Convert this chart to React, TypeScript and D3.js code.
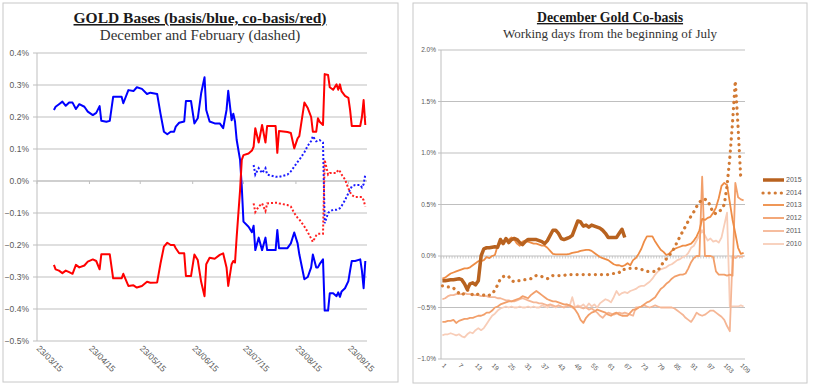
import React from 'react';
import * as d3 from 'd3';

// ---------------- Left chart data ----------------
const leftDates = [
  '2015-04-02','2015-04-03','2015-04-05','2015-04-07','2015-04-09','2015-04-11','2015-04-13','2015-04-15','2015-04-17','2015-04-20',
  '2015-04-22','2015-04-25','2015-04-27','2015-04-29','2015-04-30','2015-05-03','2015-05-05','2015-05-07','2015-05-12','2015-05-13',
  '2015-05-16','2015-05-19','2015-05-21','2015-05-24','2015-05-27','2015-05-29','2015-06-02','2015-06-04','2015-06-06','2015-06-08',
  '2015-06-10','2015-06-12','2015-06-13','2015-06-15','2015-06-18','2015-06-19','2015-06-22','2015-06-24','2015-06-26','2015-06-28',
  '2015-06-30','2015-07-01','2015-07-03','2015-07-06','2015-07-09','2015-07-11','2015-07-13','2015-07-14','2015-07-16','2015-07-17',
  '2015-07-18','2015-07-19','2015-07-21','2015-07-22','2015-07-23','2015-07-26','2015-07-28','2015-07-29','2015-07-30','2015-08-01',
  '2015-08-03','2015-08-05','2015-08-06','2015-08-11','2015-08-12','2015-08-13','2015-08-18','2015-08-20','2015-08-22','2015-08-24',
  '2015-08-25','2015-08-28','2015-08-30','2015-09-01','2015-09-02','2015-09-04','2015-09-05','2015-09-06','2015-09-08','2015-09-09',
  '2015-09-11','2015-09-12','2015-09-14','2015-09-16','2015-09-17','2015-09-18','2015-09-19','2015-09-21','2015-09-23','2015-09-24',
  '2015-09-25','2015-09-27','2015-09-30','2015-10-01','2015-10-02','2015-10-03'
];
const decBasis = [
  0.222,0.232,0.24,0.248,0.235,0.245,0.245,0.225,0.24,0.232,
  0.217,0.206,0.213,0.234,0.188,0.185,0.188,0.263,0.263,0.243,
  0.284,0.281,0.293,0.288,0.272,0.276,0.272,0.21,0.154,0.146,
  0.154,0.154,0.17,0.182,0.186,0.25,0.25,0.18,0.196,0.274,
  0.324,0.222,0.186,0.18,0.18,0.165,0.222,0.282,0.19,0.21,
  0.186,0.128,0.066,-0.018,-0.127,-0.143,-0.16,-0.14,-0.216,-0.177,
  -0.216,-0.177,-0.216,-0.216,-0.153,-0.21,-0.21,-0.195,-0.161,-0.195,
  -0.229,-0.307,-0.3,-0.27,-0.23,-0.27,-0.27,-0.26,-0.245,-0.405,
  -0.405,-0.351,-0.351,-0.36,-0.348,-0.362,-0.345,-0.335,-0.313,-0.28,
  -0.25,-0.25,-0.245,-0.28,-0.335,-0.25
];
const decCoBasis = [
  -0.262,-0.276,-0.28,-0.288,-0.28,-0.285,-0.29,-0.262,-0.27,-0.264,
  -0.252,-0.245,-0.25,-0.276,-0.229,-0.229,-0.229,-0.304,-0.304,-0.29,
  -0.328,-0.326,-0.333,-0.328,-0.315,-0.318,-0.317,-0.257,-0.205,-0.193,
  -0.2,-0.2,-0.21,-0.226,-0.226,-0.297,-0.297,-0.23,-0.247,-0.315,
  -0.36,-0.26,-0.24,-0.243,-0.231,-0.226,-0.27,-0.328,-0.26,-0.25,
  -0.255,-0.174,-0.028,0.066,0.081,0.086,0.095,0.107,0.165,0.12,
  0.175,0.12,0.172,0.172,0.088,0.156,0.153,0.15,0.102,0.133,
  0.14,0.245,0.228,0.2,0.154,0.154,0.196,0.185,0.175,0.334,
  0.331,0.293,0.285,0.302,0.285,0.302,0.28,0.266,0.26,0.222,
  0.172,0.172,0.172,0.2,0.253,0.175
];
const febBasis = [
  null,null,null,null,null,null,null,null,null,null,
  null,null,null,null,null,null,null,null,null,null,
  null,null,null,null,null,null,null,null,null,null,
  null,null,null,null,null,null,null,null,null,null,
  null,null,null,null,null,null,null,null,null,null,
  null,null,null,null,null,null,null,0.05,0.02,0.04,
  0.025,0.04,0.02,0.013,0.013,0.013,0.02,0.03,0.045,0.06,
  0.066,0.09,0.11,0.125,0.14,0.124,0.126,0.128,0.12,-0.132,
  -0.1,-0.095,-0.09,-0.09,-0.088,-0.085,-0.078,-0.06,-0.038,-0.028,
  -0.017,-0.0125,-0.0125,-0.02,-0.01,0.02
];
const febCoBasis = [
  null,null,null,null,null,null,null,null,null,null,
  null,null,null,null,null,null,null,null,null,null,
  null,null,null,null,null,null,null,null,null,null,
  null,null,null,null,null,null,null,null,null,null,
  null,null,null,null,null,null,null,null,null,null,
  null,null,null,null,null,null,null,-0.07,-0.097,-0.08,
  -0.07,-0.094,-0.07,-0.068,-0.068,-0.07,-0.075,-0.08,-0.1,-0.115,
  -0.12,-0.142,-0.16,-0.18,-0.19,-0.17,-0.165,-0.165,-0.165,0.066,
  0.02,0.025,0.025,0.025,0.035,0.03,0.02,0.005,-0.023,-0.035,
  -0.044,-0.05,-0.05,-0.05,-0.06,-0.08
];
const leftXTicks = ['2015-03-23','2015-04-23','2015-05-23','2015-06-23','2015-07-23','2015-08-23','2015-09-23'];
const leftXTickLabels = ['23/03/15','23/04/15','23/05/15','23/06/15','23/07/15','23/08/15','23/09/15'];
const leftYTicks = [0.4,0.3,0.2,0.1,0.0,-0.1,-0.2,-0.3,-0.4,-0.5];

// ---------------- Right chart data ----------------
const workDays = Array.from({ length: 110 }, (_, i) => i + 1);
const rightXLabels = [1,7,13,19,25,31,37,43,49,55,61,67,73,79,85,91,97,103,109];
const rightYTicks = [2.0,1.5,1.0,0.5,0.0,-0.5,-1.0];

const co2015 = [
  -0.24,-0.24,-0.235,-0.23,-0.23,-0.225,-0.22,-0.23,-0.27,-0.325,
  -0.27,-0.26,-0.28,-0.24,0.0,0.07,0.08,0.08,0.085,0.09,
  0.085,0.16,0.12,0.17,0.13,0.16,0.17,0.16,0.13,0.11,
  0.14,0.16,0.16,0.16,0.16,0.15,0.14,0.12,0.15,0.2,
  0.25,0.25,0.22,0.17,0.16,0.17,0.18,0.2,0.27,0.34,
  0.33,0.29,0.3,0.28,0.3,0.29,0.28,0.27,0.25,0.22,
  0.18,0.18,0.18,0.18,0.22,0.26,0.18
];
const co2014 = [
  -0.29,-0.29,-0.3,-0.3,-0.31,-0.34,-0.36,-0.38,-0.36,-0.33,
  -0.35,-0.38,-0.38,-0.37,-0.37,-0.38,-0.39,-0.38,-0.37,-0.33,
  -0.28,-0.22,-0.2,-0.19,-0.2,-0.24,-0.25,-0.24,-0.24,-0.23,
  -0.23,-0.22,-0.22,-0.2,-0.19,-0.19,-0.2,-0.21,-0.22,-0.21,
  -0.19,-0.19,-0.19,-0.19,-0.19,-0.18,-0.18,-0.18,-0.18,-0.18,
  -0.18,-0.18,-0.18,-0.18,-0.18,-0.18,-0.18,-0.18,-0.18,-0.18,
  -0.18,-0.17,-0.17,-0.17,-0.16,-0.13,-0.13,-0.12,-0.12,-0.12,
  -0.12,-0.12,-0.13,-0.14,-0.15,-0.15,-0.15,-0.15,-0.14,-0.1,
  -0.06,-0.03,0.0,0.04,0.08,0.14,0.19,0.24,0.29,0.34,
  0.39,0.43,0.48,0.52,0.55,0.55,0.54,0.48,0.42,0.41,
  0.43,0.45,0.5,0.68,0.95,1.3,1.7,1.25,0.74
];
const co2013 = [
  -0.22,-0.21,-0.19,-0.17,-0.16,-0.15,-0.14,-0.13,-0.12,-0.12,
  -0.11,-0.09,-0.07,-0.05,-0.05,-0.04,-0.01,-0.02,0.0,0.01,
  0.1,0.12,0.13,0.15,0.16,0.18,0.16,0.12,0.1,0.14,
  0.15,0.14,0.13,0.12,0.12,0.11,0.1,0.1,0.08,0.05,
  0.02,0.015,0.015,0.015,0.015,0.015,0.02,0.03,0.035,0.04,
  0.05,0.055,0.06,0.06,0.05,0.03,0.01,-0.01,-0.02,-0.03,
  -0.04,-0.06,-0.08,-0.09,-0.09,-0.1,-0.09,-0.07,-0.09,-0.04,
  -0.02,0.02,0.07,0.14,0.19,0.19,0.19,0.14,0.1,0.06,
  0.04,0.01,0.02,0.05,0.07,0.08,0.09,0.1,0.1,0.11,
  0.12,0.15,0.19,0.25,0.36,0.35,0.37,0.38,0.42,0.47,
  0.56,0.68,0.71,0.69,0.52,0.35,0.22,0.08,0.02,0.03
];
const co2012 = [
  -0.64,-0.64,-0.63,-0.63,-0.62,-0.65,-0.63,-0.62,-0.61,-0.61,
  -0.6,-0.6,-0.59,-0.58,-0.58,-0.57,-0.55,-0.55,-0.53,-0.5,
  -0.49,-0.47,-0.46,-0.45,-0.44,-0.44,-0.43,-0.42,-0.41,-0.39,
  -0.4,-0.41,-0.38,-0.36,-0.34,-0.36,-0.38,-0.4,-0.42,-0.43,
  -0.44,-0.44,-0.45,-0.46,-0.47,-0.47,-0.48,-0.49,-0.52,-0.56,
  -0.62,-0.65,-0.6,-0.57,-0.55,-0.54,-0.52,-0.53,-0.54,-0.55,
  -0.57,-0.58,-0.56,-0.55,-0.57,-0.58,-0.58,-0.58,-0.55,-0.52,
  -0.52,-0.5,-0.49,-0.47,-0.45,-0.44,-0.42,-0.4,-0.36,-0.32,
  -0.3,-0.27,-0.25,-0.22,-0.2,-0.19,-0.18,-0.18,-0.17,-0.12,
  -0.06,-0.02,0.0,0.0,0.77,0.0,0.0,0.0,-0.01,-0.15,
  -0.18,-0.18,-0.18,-0.19,-0.18,-0.19,0.71,0.57,0.55,0.54
];
const co2011 = [
  -0.42,-0.41,-0.39,-0.38,-0.38,-0.37,-0.37,-0.37,-0.36,-0.37,
  -0.37,-0.38,-0.38,-0.38,-0.39,-0.39,-0.39,-0.4,-0.4,-0.4,
  -0.41,-0.41,-0.42,-0.43,-0.43,-0.44,-0.44,-0.43,-0.42,-0.41,
  -0.42,-0.43,-0.44,-0.45,-0.45,-0.46,-0.46,-0.47,-0.48,-0.47,
  -0.48,-0.49,-0.48,-0.49,-0.5,-0.49,-0.48,-0.5,-0.5,-0.49,
  -0.5,-0.51,-0.5,-0.52,-0.51,-0.53,-0.55,-0.58,-0.6,-0.57,
  -0.55,-0.56,-0.57,-0.56,-0.55,-0.56,-0.55,-0.56,-0.57,-0.58,
  -0.5,-0.5,-0.49,-0.48,-0.49,-0.5,-0.49,-0.48,-0.49,-0.5,
  -0.5,-0.5,-0.5,-0.5,-0.51,-0.53,-0.55,-0.57,-0.6,-0.62,
  -0.64,-0.6,-0.55,-0.57,-0.58,-0.57,-0.55,-0.53,-0.53,-0.55,
  -0.57,-0.59,-0.62,-0.68,-0.73,0.0,-0.02,0.0,-0.01,0.0
];
const co2010 = [
  -0.77,-0.76,-0.76,-0.75,-0.76,-0.77,-0.76,-0.78,-0.79,-0.76,
  -0.74,-0.75,-0.72,-0.7,-0.72,-0.7,-0.66,-0.62,-0.58,-0.56,
  -0.53,-0.51,-0.5,-0.49,-0.5,-0.49,-0.5,-0.5,-0.49,-0.5,
  -0.5,-0.49,-0.5,-0.49,-0.5,-0.5,-0.48,-0.49,-0.5,-0.48,
  -0.49,-0.5,-0.48,-0.49,-0.5,-0.47,-0.49,-0.4,-0.5,-0.48,
  -0.49,-0.47,-0.5,-0.46,-0.49,-0.47,-0.5,-0.46,-0.44,-0.42,
  -0.43,-0.45,-0.4,-0.34,-0.38,-0.36,-0.35,-0.36,-0.34,-0.33,
  -0.32,-0.3,-0.29,-0.29,-0.27,-0.25,-0.22,-0.18,-0.15,-0.13,
  -0.12,-0.11,-0.09,-0.08,-0.06,-0.04,-0.03,-0.01,0.0,0.03,
  0.08,0.1,0.15,0.2,0.25,0.2,0.15,0.17,0.14,0.15,
  0.13,0.18,0.3,0.42,-0.49,-0.49,-0.49,-0.49,-0.48,-0.49
];

const seriesNames = ['2015','2014','2013','2012','2011','2010'];
const seriesValues = [co2015, co2014, co2013, co2012, co2011, co2010];
const seriesColors = ['#B8621F','#D27A34','#EE8C45','#F29F6A','#F5B695','#F8CDB8'];

const parse = d3.timeParse('%Y-%m-%d');
const pctFmt = d3.format('.1f');
const GRID = '#BFBFBF';
const LABEL = '#595959';
const SANS = '"Liberation Sans", Arial, sans-serif';
const SERIF = '"Liberation Serif", "DejaVu Serif", serif';

function LeftChart() {
  const x = d3.scaleTime().domain([parse('2015-03-23')!, parse('2015-10-04')!]).range([37, 367]);
  const y = d3.scaleLinear().domain([-0.5, 0.4]).range([341, 53]);
  const dates = leftDates.map((d) => parse(d)!);
  const mk = (vals: (number | null)[]) =>
    d3.line<number>()
      .defined((i) => vals[i] !== null)
      .x((i) => x(dates[i]))
      .y((i) => y(vals[i] as number))(d3.range(dates.length));
  const y0 = y(0);
  return (
    <g>
      <rect x={3} y={3} width={395} height={379} fill="#fff" stroke="#C8C8C8" strokeWidth={1} />
      <text x={200} y={23} textAnchor="middle" fontFamily={SERIF} fontWeight="bold" fontSize={15.5} fill="#1a1a1a" textDecoration="underline">
        GOLD Bases (basis/blue, co-basis/red)
      </text>
      <text x={200} y={40} textAnchor="middle" fontFamily={SERIF} fontSize={15} fill="#333">
        December and February (dashed)
      </text>
      {leftYTicks.map((t) => (
        <g key={t}>
          <line x1={33} x2={367} y1={y(t)} y2={y(t)} stroke={GRID} strokeWidth={1} />
          <text x={29} y={y(t)} dy="0.35em" textAnchor="end" fontFamily={SANS} fontSize={8.5} fill={LABEL}>
            {pctFmt(t)}%
          </text>
        </g>
      ))}
      <line x1={37} x2={37} y1={53} y2={341} stroke={GRID} strokeWidth={1} />
      <line x1={37} x2={367} y1={y0} y2={y0} stroke={GRID} strokeWidth={1} />
      {leftXTicks.map((t, i) => {
        const xx = x(parse(t)!);
        return (
          <g key={t}>
            <line x1={xx} x2={xx} y1={y0} y2={y0 + 3} stroke={GRID} strokeWidth={1} />
            <text transform={`translate(${xx - 1},${349}) rotate(45)`} fontFamily={SANS} fontSize={8.5} fill={LABEL}>
              {leftXTickLabels[i]}
            </text>
          </g>
        );
      })}
      <path d={mk(febBasis) || ''} fill="none" stroke="#1a1aff" strokeWidth={2} strokeDasharray="2,2" />
      <path d={mk(febCoBasis) || ''} fill="none" stroke="#ff2020" strokeWidth={2} strokeDasharray="2,2" />
      <path d={mk(decBasis) || ''} fill="none" stroke="#0000ff" strokeWidth={2} strokeLinejoin="round" />
      <path d={mk(decCoBasis) || ''} fill="none" stroke="#ff0000" strokeWidth={2} strokeLinejoin="round" />
    </g>
  );
}

function RightChart() {
  const x = d3.scalePoint<number>().domain(workDays).range([441, 745]).padding(0.5);
  const y = d3.scaleLinear().domain([-1.0, 2.0]).range([359, 50]);
  const step = x.step();
  const y0 = y(0);
  const lineFor = (vals: number[]) =>
    d3.line<number>().x((_, i) => x(workDays[i])!).y((v) => y(v))(vals) || '';
  const styles = [
    { w: 3.5, dash: undefined, cap: 'butt' },
    { w: 3.2, dash: '0.1,6', cap: 'round' },
    { w: 1.8, dash: undefined, cap: 'butt' },
    { w: 1.8, dash: undefined, cap: 'butt' },
    { w: 1.8, dash: undefined, cap: 'butt' },
    { w: 1.8, dash: undefined, cap: 'butt' },
  ];
  const legendY = [180, 193, 205, 218, 231, 244];
  return (
    <g>
      <rect x={413} y={3} width={394} height={380} fill="#fff" stroke="#C8C8C8" strokeWidth={1} />
      <text x={610} y={22} textAnchor="middle" fontFamily={SERIF} fontWeight="bold" fontSize={13.8} fill="#1a1a1a" textDecoration="underline">
        December Gold Co-basis
      </text>
      <text x={610} y={38} textAnchor="middle" fontFamily={SERIF} fontSize={13} fill="#333">
        Working days from the beginning of July
      </text>
      {rightYTicks.map((t) => (
        <g key={t}>
          <line x1={438} x2={745} y1={y(t)} y2={y(t)} stroke={GRID} strokeWidth={1} />
          <text x={436} y={y(t)} dy="0.35em" textAnchor="end" fontFamily={SANS} fontSize={6.5} fill={LABEL}>
            {pctFmt(t)}%
          </text>
        </g>
      ))}
      <line x1={441} x2={441} y1={50} y2={359} stroke={GRID} strokeWidth={1} />
      {workDays.map((d) => {
        const xx = x(d)! - step / 2;
        return <line key={d} x1={xx} x2={xx} y1={y0} y2={y0 + 2.5} stroke={GRID} strokeWidth={0.8} />;
      })}
      {rightXLabels.map((d) => (
        <text key={d} transform={`translate(${x(d)! - 1},${366}) rotate(45)`} fontFamily={SANS} fontSize={6.5} fill={LABEL}>
          {d}
        </text>
      ))}
      {seriesValues
        .map((vals, i) => ({ vals, i }))
        .reverse()
        .map(({ vals, i }) => (
          <path
            key={seriesNames[i]}
            d={lineFor(vals)}
            fill="none"
            stroke={seriesColors[i]}
            strokeWidth={styles[i].w}
            strokeDasharray={styles[i].dash}
            strokeLinecap={styles[i].cap as any}
            strokeLinejoin="round"
          />
        ))}
      {seriesNames.map((n, i) => (
        <g key={n}>
          <line
            x1={763}
            x2={784}
            y1={legendY[i]}
            y2={legendY[i]}
            stroke={seriesColors[i]}
            strokeWidth={styles[i].w}
            strokeDasharray={styles[i].dash}
            strokeLinecap={styles[i].cap as any}
          />
          <text x={786} y={legendY[i]} dy="0.35em" fontFamily={SANS} fontSize={7} fill={LABEL}>
            {n}
          </text>
        </g>
      ))}
    </g>
  );
}

export default function App() {
  return (
    <svg
      width={813}
      height={388}
      style={{ position: 'absolute', left: 0, top: 0, background: '#fff' }}
      xmlns="http://www.w3.org/2000/svg"
    >
      <rect x={0} y={0} width={813} height={388} fill="#fff" />
      <LeftChart />
      <RightChart />
    </svg>
  );
}
